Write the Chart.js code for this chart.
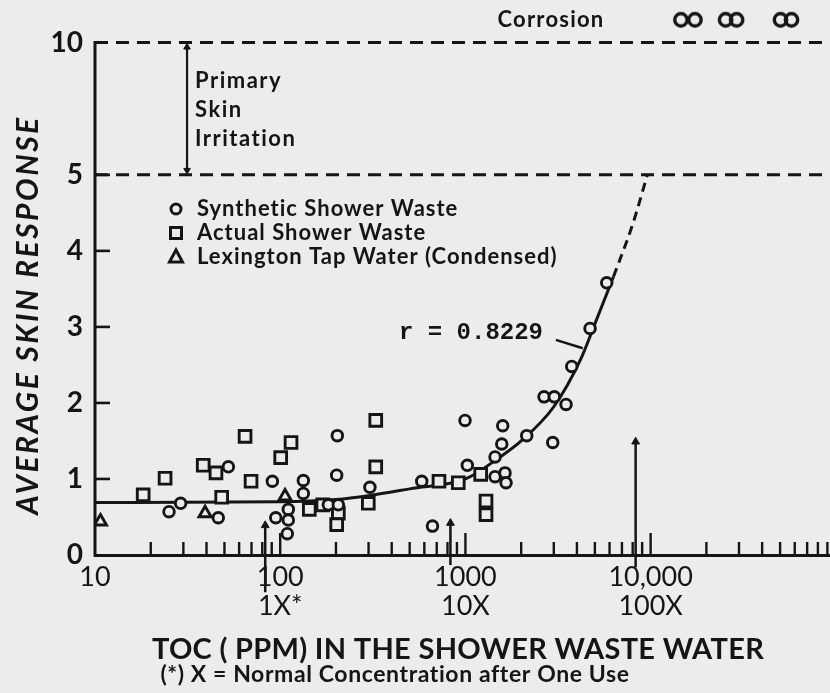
<!DOCTYPE html>
<html>
<head>
<meta charset="utf-8">
<script src="https://cdn.jsdelivr.net/npm/chart.js@4.4.1/dist/chart.umd.min.js"></script>
<style>
  html, body { margin: 0; padding: 0; background: #ececea; }
  #wrap { width: 830px; height: 693px; }
</style>
</head>
<body>
<div id="wrap"><canvas id="c" width="830" height="693"></canvas></div>
<script>
// ---------------- data ----------------
const synthX = [25.1, 29.0, 46.3, 52.5, 90.7, 94.6, 110.6, 110.6, 109.2, 133.3, 133.3, 181.9, 206, 203.4, 201.8,
                305, 581, 664, 1024, 995, 1445, 1636, 1657, 1445, 1571, 1590, 2143, 2961, 2657, 3020, 3494, 3750, 4709, 5794];
const synthY = [0.57, 0.68, 0.49, 1.16, 0.97, 0.49, 0.60, 0.46, 0.28, 0.98, 0.81, 0.66, 0.66, 1.57, 1.05,
                0.89, 0.97, 0.38, 1.18, 1.77, 1.03, 1.08, 0.95, 1.29, 1.46, 1.70, 1.57, 1.48, 2.08, 2.08, 1.98, 2.48, 2.98, 3.58];

const actualX = [18.2, 23.9, 38.4, 45.0, 48.3, 64.6, 69.6, 100.6, 114.4, 143.6, 169.7, 206, 201.8, 328, 328, 299, 720, 915, 1209, 1292, 1292];
const actualY = [0.79, 1.01, 1.18, 1.08, 0.76, 1.56, 0.97, 1.28, 1.48, 0.60, 0.66, 0.55, 0.40, 1.77, 1.16, 0.68, 0.97, 0.95, 1.06, 0.71, 0.53];

const tapX = [10.7, 39.3, 106.2];
const tapY = [0.44, 0.55, 0.77];

// regression curve (solid part) and its dashed extension
const regX = [10, 100, 200, 300, 500, 1000, 1500, 2000, 3000, 4200, 5000, 6300];
const regY = [0.69, 0.70, 0.73, 0.78, 0.87, 1.00, 1.27, 1.50, 1.95, 2.58, 3.04, 3.66];
const regExtX = [6300, 8000, 9600];
const regExtY = [3.66, 4.35, 5.0];

// corrosion (off-scale) observations
const corrosionX = [15900, 27200, 53800];

// concentration markers: 1X, 10X, 100X
const concX = [83, 830, 8300];
const concTop = [0.39, 0.42, 1.49];
const concBottom = [-0.49, -0.13, -0.16];

// threshold levels
const levelValues = [10, 5];

// ticks
const xTickValues = [10,20,30,40,50,60,70,80,90,100,200,300,400,500,600,700,800,900,
                     1000,2000,3000,4000,5000,6000,7000,8000,9000,10000,20000,30000,40000,50000,60000,70000,80000,90000];
const xMajor = [10, 100, 1000, 10000];
const xMajorLabels = ['10', '100', '1000', '10,000'];
const xSubLabels = ['', '1X*', '10X', '100X'];
const yTickValues = [0, 1, 2, 3, 4, 5, 10];
const yTickLabels = ['0', '1', '2', '3', '4', '5', '10'];

const seriesNames = ['Synthetic Shower Waste', 'Actual Shower Waste', 'Lexington Tap Water (Condensed)'];

// ---------------- styling / scale helpers ----------------
const PAPER = '#ececea', INK = '#151515';
const UPPER = 0.348;                 // the 5..10 band is drawn compressed
const brk = v => v <= 5 ? v : 5 + (v - 5) * UPPER;
const Y_MAX = 7.30;
const X_MIN = 10, X_MAX = 93000;
const CORROSION_ROW = 7.04;          // row above the chart frame
const FONT = 'Lato, "Open Sans", sans-serif';

const pts = (xs, ys) => xs.map((x, i) => ({ x: x, y: brk(ys[i]) }));

function makeInfinity(sep) {
  const c = document.createElement('canvas');
  c.width = 38; c.height = 20;
  const g = c.getContext('2d');
  g.strokeStyle = INK; g.lineWidth = 3.4;
  [19 - sep / 2, 19 + sep / 2].forEach(cx => {
    g.beginPath(); g.arc(cx, 10, 6.2, 0, Math.PI * 2); g.stroke();
  });
  return c;
}

const datasets = [
  { label: seriesNames[0], data: pts(synthX, synthY), pointStyle: 'circle', pointRadius: 5.3,
    borderColor: INK, backgroundColor: PAPER, pointBorderWidth: 2.9, showLine: false, order: 0 },
  { label: seriesNames[1], data: pts(actualX, actualY), pointStyle: 'rect', pointRadius: 8.3,
    borderColor: INK, backgroundColor: PAPER, pointBorderWidth: 2.9, showLine: false, order: 0 },
  { label: seriesNames[2], data: pts(tapX, tapY), pointStyle: 'triangle', pointRadius: 7,
    borderColor: INK, backgroundColor: PAPER, pointBorderWidth: 2.9, showLine: false, order: 0 },
  { label: 'regression', data: pts(regX, regY), showLine: true, borderColor: INK, borderWidth: 3,
    pointRadius: 0, cubicInterpolationMode: 'monotone', order: 2 },
  { label: 'regression (extrapolated)', data: pts(regExtX, regExtY), showLine: true, borderColor: INK,
    borderWidth: 3, borderDash: [9, 6], pointRadius: 0, cubicInterpolationMode: 'monotone', order: 2 },
];
levelValues.forEach(v => datasets.push({
  label: 'level ' + v, data: [{ x: X_MIN, y: brk(v) }, { x: X_MAX, y: brk(v) }], showLine: true,
  borderColor: INK, borderWidth: 3, borderDash: [13, 8], pointRadius: 0, order: 3, clip: false
}));
concX.forEach((x, i) => datasets.push({
  label: 'conc ' + i, data: [{ x: x, y: concTop[i] }, { x: x, y: concBottom[i] }], showLine: true,
  borderColor: INK, borderWidth: 2.5, pointStyle: 'triangle', pointRadius: [4.5, 0], pointBorderWidth: 1,
  backgroundColor: INK, order: 1, clip: false
}));
// primary skin irritation band arrow (between levels 5 and 10)
datasets.push({
  label: 'band', data: [{ x: 31.4, y: brk(10) - 0.06 }, { x: 31.4, y: brk(5) + 0.06 }], showLine: true,
  borderColor: INK, borderWidth: 2.2, pointStyle: 'triangle', pointRadius: 3.8, pointRotation: [0, 180],
  pointBorderWidth: 1, backgroundColor: INK, order: 1
});
// leader from correlation label to curve
datasets.push({
  label: 'r leader', data: [{ x: 3080, y: 2.83 }, { x: 4300, y: 2.72 }], showLine: true,
  borderColor: INK, borderWidth: 2.5, pointRadius: 0, order: 1
});
datasets.push({
  label: 'Corrosion', data: corrosionX.map(x => ({ x: x, y: CORROSION_ROW })), showLine: false,
  pointStyle: [makeInfinity(14), makeInfinity(11), makeInfinity(11)], pointRadius: 8, order: 0, clip: false
});

function spaced(ctx, px) { if ('letterSpacing' in ctx) ctx.letterSpacing = px + 'px'; }

// ---------------- decorations plugin ----------------
const deco = {
  id: 'deco',
  beforeDraw(chart) {
    const ctx = chart.ctx;
    ctx.save(); ctx.fillStyle = PAPER; ctx.fillRect(0, 0, chart.width, chart.height); ctx.restore();
  },
  afterDraw(chart) {
    const ctx = chart.ctx, xs = chart.scales.x, ys = chart.scales.y;
    const y0 = ys.getPixelForValue(0), left = xs.left;
    ctx.save();
    ctx.strokeStyle = INK; ctx.fillStyle = INK; ctx.lineCap = 'butt';
    // y axis line 0..10
    ctx.lineWidth = 3;
    ctx.beginPath(); ctx.moveTo(left, y0 + 1.5); ctx.lineTo(left, ys.getPixelForValue(brk(10)) - 1.5); ctx.stroke();
    // inward y ticks
    ctx.lineWidth = 2.6;
    yTickValues.forEach(v => {
      if (v === 0 || v > 5) return;
      const py = ys.getPixelForValue(brk(v));
      ctx.beginPath(); ctx.moveTo(left, py); ctx.lineTo(left + 15, py); ctx.stroke();
    });
    // inward x ticks
    ctx.lineWidth = 2.4;
    xTickValues.forEach(v => {
      if (v === X_MIN) return;
      const px = xs.getPixelForValue(v);
      const len = xMajor.includes(v) ? 22 : 13;
      ctx.beginPath(); ctx.moveTo(px, y0); ctx.lineTo(px, y0 - len); ctx.stroke();
    });
    // legend
    const lx = 176, rows = [209, 233, 257];
    ctx.lineWidth = 3;
    ctx.beginPath(); ctx.arc(lx, rows[0], 5, 0, Math.PI * 2); ctx.stroke();
    ctx.strokeRect(lx - 5.5, rows[1] - 5.5, 11, 11);
    ctx.beginPath(); ctx.moveTo(lx, rows[2] - 7); ctx.lineTo(lx + 6.5, rows[2] + 5); ctx.lineTo(lx - 6.5, rows[2] + 5); ctx.closePath(); ctx.stroke();
    ctx.font = 'bold 22px ' + FONT; ctx.textBaseline = 'alphabetic'; ctx.textAlign = 'left';
    spaced(ctx, 1);
    seriesNames.forEach((n, i) => ctx.fillText(n, 197, rows[i] + 7));
    // band label
    spaced(ctx, 1.5);
    ctx.fillText('Primary', 195, 88);
    ctx.fillText('Skin', 195, 117);
    ctx.fillText('Irritation', 195, 146);
    // corrosion label
    spaced(ctx, 1.2);
    ctx.font = 'bold 22px ' + FONT; ctx.textAlign = 'center'; ctx.textBaseline = 'middle';
    ctx.fillText('Corrosion', 551, 20);
    // correlation
    spaced(ctx, 0);
    ctx.font = 'bold 24px "Liberation Mono", "DejaVu Sans Mono", monospace'; ctx.textAlign = 'left';
    ctx.fillText('r = 0.8229', 399, 333);
    // axis titles
    ctx.font = 'bold 29px ' + FONT; ctx.textAlign = 'center';
    spaced(ctx, 0.3);
    ctx.fillText('TOC ( PPM) IN THE SHOWER WASTE WATER', 458, 650);
    ctx.font = 'bold 23px ' + FONT;
    spaced(ctx, 0.6);
    ctx.fillText('(*) X = Normal Concentration after One Use', 395, 675);
    ctx.save();
    ctx.translate(28, 315); ctx.rotate(-Math.PI / 2);
    ctx.font = 'italic bold 30px ' + FONT;
    spaced(ctx, 2.5);
    ctx.fillText('AVERAGE SKIN RESPONSE', 0, 0);
    ctx.restore();
    ctx.restore();
  }
};

new Chart(document.getElementById('c'), {
  type: 'scatter',
  data: { datasets: datasets },
  options: {
    responsive: false, animation: false, devicePixelRatio: 1, events: [],
    layout: { padding: 0, autoPadding: false },
    plugins: { legend: { display: false }, tooltip: { enabled: false } },
    scales: {
      x: {
        type: 'logarithmic', position: 'bottom', min: X_MIN, max: X_MAX,
        grid: { display: false, drawTicks: false },
        border: { display: true, color: INK, width: 3 },
        afterBuildTicks: s => { s.ticks = xTickValues.map(v => ({ value: v })); },
        afterFit: s => { s.height = 138; s.paddingLeft = 0; s.paddingRight = 0; },
        ticks: {
          autoSkip: false, maxRotation: 0, minRotation: 0, padding: 7, color: INK,
          font: { family: FONT, size: 27, weight: '400', lineHeight: 1.1 },
          callback: v => {
            const i = xMajor.indexOf(v);
            if (i < 0) return '';
            return xSubLabels[i] ? [xMajorLabels[i], xSubLabels[i]] : xMajorLabels[i];
          }
        }
      },
      y: {
        type: 'linear', min: 0, max: Y_MAX,
        grid: { display: false, drawTicks: false },
        border: { display: false },
        afterBuildTicks: s => { s.ticks = yTickValues.map(v => ({ value: brk(v) })); },
        afterFit: s => { s.width = 95; s.paddingTop = 0; s.paddingBottom = 0; },
        ticks: {
          padding: 12, color: INK,
          font: { family: FONT, size: 28, weight: 'bold' },
          callback: (v, i) => yTickLabels[i]
        }
      }
    }
  },
  plugins: [deco]
});
</script>
</body>
</html>
